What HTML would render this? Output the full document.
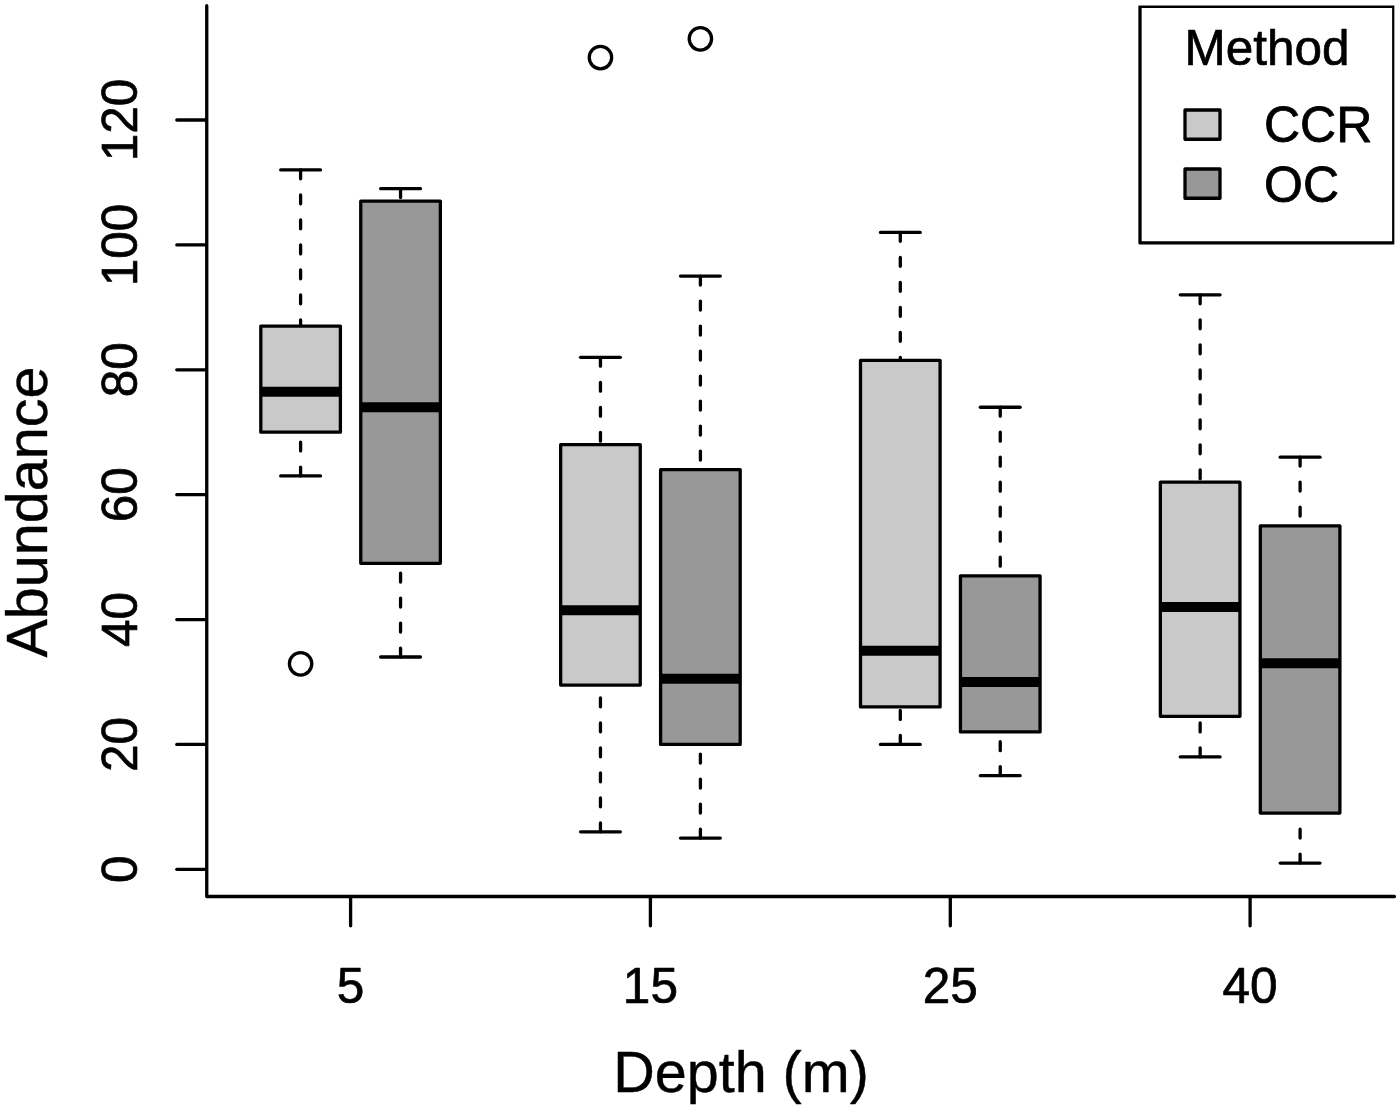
<!DOCTYPE html>
<html lang="en"><head><meta charset="utf-8"><title>Abundance by depth</title>
<style>html,body{margin:0;padding:0;background:#fff}svg{display:block}text{font-family:"Liberation Sans",Arial,Helvetica,sans-serif;fill:#000}</style></head><body>
<svg width="1400" height="1109" viewBox="0 0 1400 1109">
<rect width="1400" height="1109" fill="#fff"/>
<g stroke="#000" stroke-width="3.3" stroke-linecap="round" stroke-linejoin="round" fill="none">
<line x1="300.6" y1="169.97" x2="300.6" y2="326.07" stroke-dasharray="8.9 16.1"/>
<line x1="300.6" y1="475.93" x2="300.6" y2="432.22" stroke-dasharray="8.9 16.1"/>
<line x1="280.7" y1="169.97" x2="320.5" y2="169.97"/>
<line x1="280.7" y1="475.93" x2="320.5" y2="475.93"/>
<rect x="260.8" y="326.07" width="79.6" height="106.15" fill="#c9c9c9"/>
<line x1="260.8" y1="391.63" x2="340.4" y2="391.63" stroke-width="10" stroke-linecap="butt"/>
<circle cx="300.6" cy="663.87" r="11.2"/>
<line x1="400.55" y1="188.7" x2="400.55" y2="201.19" stroke-dasharray="8.9 16.1"/>
<line x1="400.55" y1="657.0" x2="400.55" y2="563.34" stroke-dasharray="8.9 16.1"/>
<line x1="380.65" y1="188.7" x2="420.45" y2="188.7"/>
<line x1="380.65" y1="657.0" x2="420.45" y2="657.0"/>
<rect x="360.75" y="201.19" width="79.6" height="362.15" fill="#989898"/>
<line x1="360.75" y1="407.24" x2="440.35" y2="407.24" stroke-width="10" stroke-linecap="butt"/>
<line x1="600.45" y1="357.29" x2="600.45" y2="444.71" stroke-dasharray="8.9 16.1"/>
<line x1="600.45" y1="831.84" x2="600.45" y2="685.1" stroke-dasharray="8.9 16.1"/>
<line x1="580.55" y1="357.29" x2="620.35" y2="357.29"/>
<line x1="580.55" y1="831.84" x2="620.35" y2="831.84"/>
<rect x="560.65" y="444.71" width="79.6" height="240.39" fill="#c9c9c9"/>
<line x1="560.65" y1="610.17" x2="640.25" y2="610.17" stroke-width="10" stroke-linecap="butt"/>
<circle cx="600.45" cy="57.58" r="11.2"/>
<line x1="700.4" y1="276.12" x2="700.4" y2="469.68" stroke-dasharray="8.9 16.1"/>
<line x1="700.4" y1="838.08" x2="700.4" y2="744.42" stroke-dasharray="8.9 16.1"/>
<line x1="680.5" y1="276.12" x2="720.3" y2="276.12"/>
<line x1="680.5" y1="838.08" x2="720.3" y2="838.08"/>
<rect x="660.6" y="469.68" width="79.6" height="274.74" fill="#989898"/>
<line x1="660.6" y1="678.86" x2="740.2" y2="678.86" stroke-width="10" stroke-linecap="butt"/>
<circle cx="700.4" cy="38.85" r="11.2"/>
<line x1="900.3" y1="232.41" x2="900.3" y2="360.41" stroke-dasharray="8.9 16.1"/>
<line x1="900.3" y1="744.42" x2="900.3" y2="706.96" stroke-dasharray="8.9 16.1"/>
<line x1="880.4" y1="232.41" x2="920.2" y2="232.41"/>
<line x1="880.4" y1="744.42" x2="920.2" y2="744.42"/>
<rect x="860.5" y="360.41" width="79.6" height="346.55" fill="#c9c9c9"/>
<line x1="860.5" y1="650.76" x2="940.1" y2="650.76" stroke-width="10" stroke-linecap="butt"/>
<line x1="1000.25" y1="407.24" x2="1000.25" y2="575.83" stroke-dasharray="8.9 16.1"/>
<line x1="1000.25" y1="775.64" x2="1000.25" y2="731.93" stroke-dasharray="8.9 16.1"/>
<line x1="980.35" y1="407.24" x2="1020.15" y2="407.24"/>
<line x1="980.35" y1="775.64" x2="1020.15" y2="775.64"/>
<rect x="960.45" y="575.83" width="79.6" height="156.1" fill="#989898"/>
<line x1="960.45" y1="681.98" x2="1040.05" y2="681.98" stroke-width="10" stroke-linecap="butt"/>
<line x1="1200.15" y1="294.85" x2="1200.15" y2="482.17" stroke-dasharray="8.9 16.1"/>
<line x1="1200.15" y1="756.91" x2="1200.15" y2="716.32" stroke-dasharray="8.9 16.1"/>
<line x1="1180.25" y1="294.85" x2="1220.05" y2="294.85"/>
<line x1="1180.25" y1="756.91" x2="1220.05" y2="756.91"/>
<rect x="1160.35" y="482.17" width="79.6" height="234.15" fill="#c9c9c9"/>
<line x1="1160.35" y1="607.05" x2="1239.95" y2="607.05" stroke-width="10" stroke-linecap="butt"/>
<line x1="1300.1" y1="457.2" x2="1300.1" y2="525.88" stroke-dasharray="8.9 16.1"/>
<line x1="1300.1" y1="863.06" x2="1300.1" y2="813.1" stroke-dasharray="8.9 16.1"/>
<line x1="1280.2" y1="457.2" x2="1320.0" y2="457.2"/>
<line x1="1280.2" y1="863.06" x2="1320.0" y2="863.06"/>
<rect x="1260.3" y="525.88" width="79.6" height="287.22" fill="#989898"/>
<line x1="1260.3" y1="663.25" x2="1339.9" y2="663.25" stroke-width="10" stroke-linecap="butt"/>
<polyline points="206.75,5.7 206.75,896.5 1394.4,896.5"/>
<line x1="176.8" y1="869.3" x2="206.25" y2="869.3"/>
<line x1="176.8" y1="744.42" x2="206.25" y2="744.42"/>
<line x1="176.8" y1="619.54" x2="206.25" y2="619.54"/>
<line x1="176.8" y1="494.66" x2="206.25" y2="494.66"/>
<line x1="176.8" y1="369.78" x2="206.25" y2="369.78"/>
<line x1="176.8" y1="244.9" x2="206.25" y2="244.9"/>
<line x1="176.8" y1="120.02" x2="206.25" y2="120.02"/>
<line x1="350.6" y1="897.0" x2="350.6" y2="925.8"/>
<line x1="650.4" y1="897.0" x2="650.4" y2="925.8"/>
<line x1="950.3" y1="897.0" x2="950.3" y2="925.8"/>
<line x1="1250.1" y1="897.0" x2="1250.1" y2="925.8"/>
<clipPath id="plotclip"><rect x="200" y="5.6" width="1194.35" height="900"/></clipPath>
<rect x="1140" y="6.25" width="253.75" height="236.65" fill="#fff" clip-path="url(#plotclip)"/>
<rect x="1185" y="110" width="35" height="29.25" fill="#c9c9c9"/>
<rect x="1185" y="169" width="35" height="29.25" fill="#989898"/>
</g>
<g font-size="49.5" stroke="#000" stroke-width="0.7" stroke-linejoin="round">
<text transform="translate(136.5,869.3) rotate(-90)" text-anchor="middle">0</text>
<text transform="translate(136.5,744.42) rotate(-90)" text-anchor="middle">20</text>
<text transform="translate(136.5,619.54) rotate(-90)" text-anchor="middle">40</text>
<text transform="translate(136.5,494.66) rotate(-90)" text-anchor="middle">60</text>
<text transform="translate(136.5,369.78) rotate(-90)" text-anchor="middle">80</text>
<text transform="translate(136.5,244.9) rotate(-90)" text-anchor="middle">100</text>
<text transform="translate(136.5,120.02) rotate(-90)" text-anchor="middle">120</text>
<text x="350.6" y="1003" text-anchor="middle">5</text>
<text x="650.4" y="1003" text-anchor="middle">15</text>
<text x="950.3" y="1003" text-anchor="middle">25</text>
<text x="1250.1" y="1003" text-anchor="middle">40</text>
<text x="1267" y="64.6" text-anchor="middle">Method</text>
<text x="1264" y="142.1" font-size="50" stroke-width="0.8">CCR</text>
<text x="1264" y="201.9" font-size="50" stroke-width="0.8">OC</text>
</g>
<g font-size="57.5" stroke="#000" stroke-width="0.4" stroke-linejoin="round">
<text transform="translate(46.5,512) rotate(-90)" text-anchor="middle">Abundance</text>
<text x="741" y="1091.5" text-anchor="middle">Depth (m)</text>
</g>
</svg></body></html>
